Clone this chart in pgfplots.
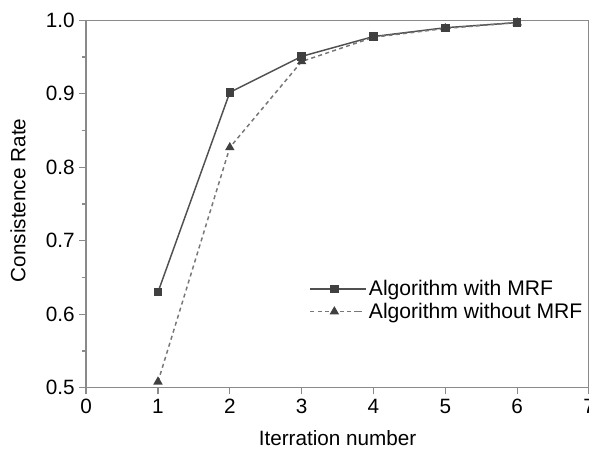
\documentclass[border=0pt]{standalone}
\usepackage{fontspec}
\setmainfont{Liberation Sans}
\usepackage{pgfplots}
\pgfplotsset{compat=1.18}
\definecolor{axgray}{HTML}{8A8A8A}
\definecolor{linedark}{HTML}{505050}
\definecolor{linelight}{HTML}{777777}
\begin{document}
\begin{tikzpicture}
\begin{axis}[
    at={(0,0)}, anchor=south west,
    scale only axis,
    width=376.5pt, height=275pt,
    xmin=0, xmax=7, ymin=0.5, ymax=1.0,
    xtick={0,1,...,7},
    ytick={0.5,0.6,0.7,0.8,0.9,1.0},
    minor y tick num=1,
    yticklabel style={/pgf/number format/.cd,fixed,fixed zerofill,precision=1},
    /pgf/number format/assume math mode=true,
    tick align=outside,
    tick pos=left,
    major tick length=5pt,
    minor tick length=3pt,
    axis line style={axgray, line width=1.1pt},
    every tick/.style={axgray, line width=1pt},
    tick label style={font=\fontsize{15.5}{18}\selectfont},
    label style={font=\fontsize{15.5}{18}\selectfont},
    xlabel={Iterration number},
    ylabel={Consistence Rate},
    xlabel style={at={(axis description cs:0.5,-0.136)}, anchor=center},
    ylabel style={at={(axis description cs:-0.1355,0.51)}, anchor=center, rotate=0},
    legend style={draw=none, fill=none, at={(axis description cs:0.444,0.238)},
        anchor=west, font=\fontsize{15.8}{18}\selectfont, row sep=0pt,
        inner xsep=0pt},
    legend cell align=left,
    legend image code/.code={\draw[mark repeat=2,mark phase=2,#1]
        plot coordinates {(0cm,0cm) (0.63cm,0cm) (1.26cm,0cm)};
        \path (1.26cm,0cm) -- (1.45cm,0cm);},
]
\addplot[linedark, line width=1.1pt, mark=square*, mark size=2.6pt,
    mark options={solid, fill=black!75, draw=black!75}] coordinates {
    (1,0.630) (2,0.902) (3,0.951) (4,0.978) (5,0.990) (6,0.997)
};
\addlegendentry{Algorithm with MRF}
\addplot[linelight, line width=1.1pt, dash pattern=on 3pt off 2.5pt,
    mark=triangle*, mark size=3pt,
    mark options={solid, fill=black!75, draw=black!75}] coordinates {
    (1,0.508) (2,0.827) (3,0.944) (4,0.977) (5,0.989) (6,0.997)
};
\addlegendentry{Algorithm without MRF}
\end{axis}
\pgfresetboundingbox
\path[use as bounding box] (-64.5pt,-47.25pt) rectangle (376.5pt,290.25pt);
\end{tikzpicture}
\end{document}
